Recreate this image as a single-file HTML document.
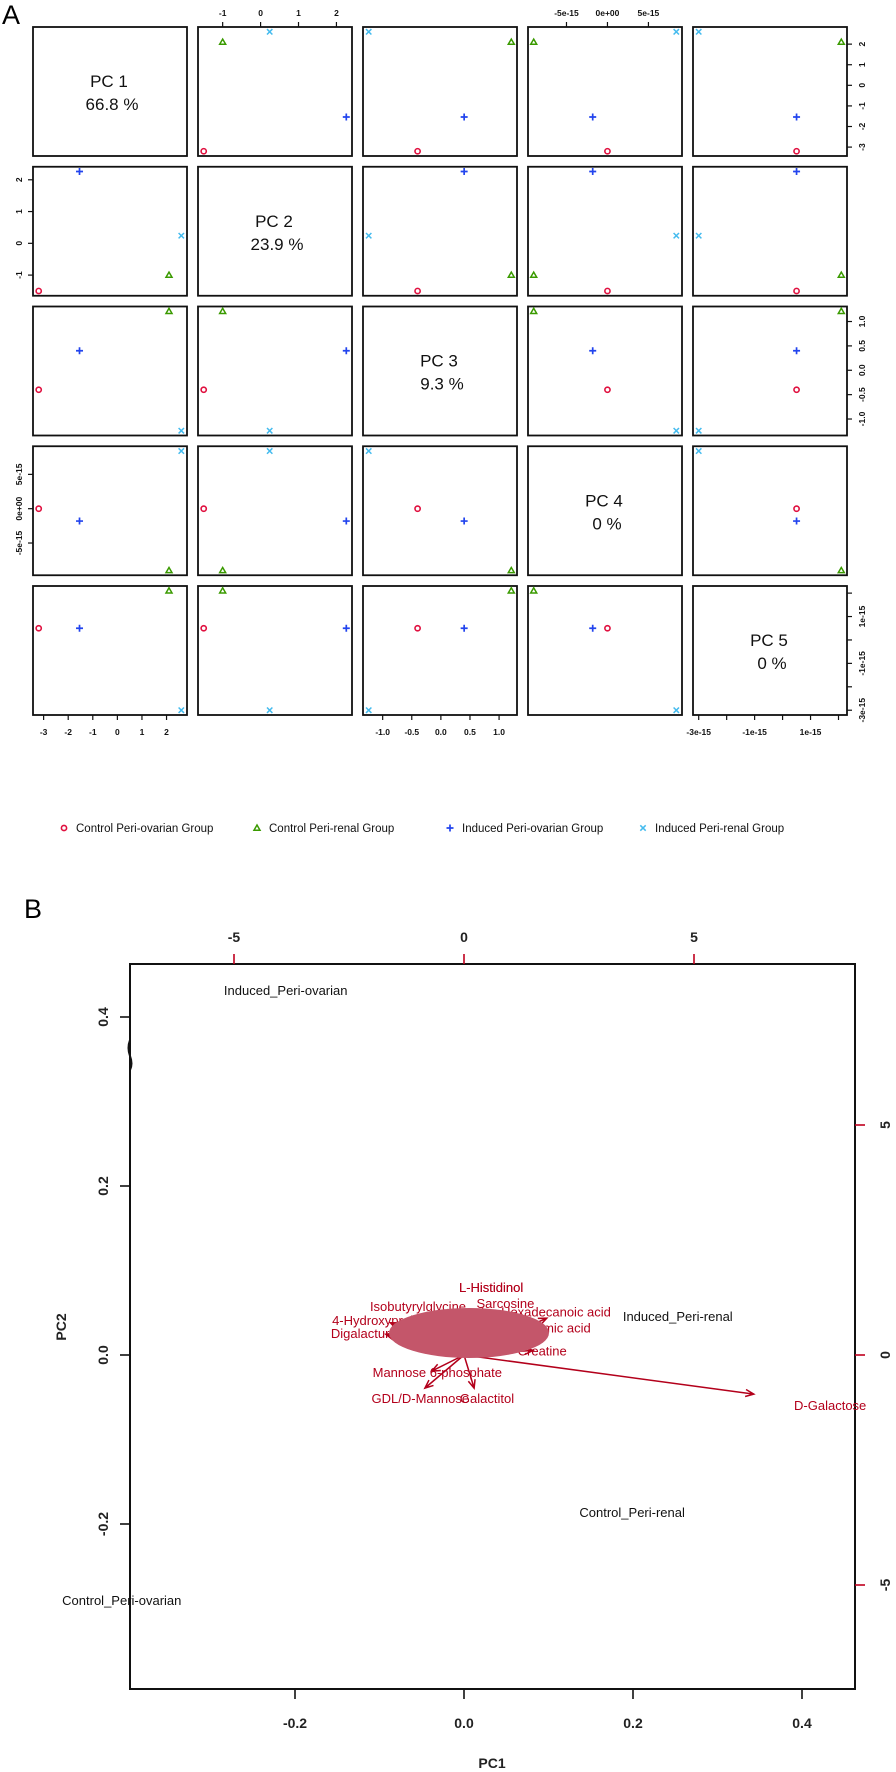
<!DOCTYPE html>
<html><head><meta charset="utf-8">
<style>
html,body{margin:0;padding:0;background:#fff;}
svg{display:block;font-family:"Liberation Sans",Arial,sans-serif;}
</style></head>
<body>
<svg id="fig" width="896" height="1772" viewBox="0 0 896 1772" xmlns="http://www.w3.org/2000/svg">
<rect x="0" y="0" width="896" height="1772" fill="#fff"/>
<text x="2" y="24" font-size="27" fill="#000">A</text>
<text x="24" y="918" font-size="27" fill="#000">B</text>
<g id="matrix"></g>
<g id="legend"></g>
<g id="biplot"></g>
</svg>
<script>
// ---------- Pairs matrix data ----------
const pcNames = ['PC 1','PC 2','PC 3','PC 4','PC 5'];
const pcVariance = ['66.8 %','23.9 %','9.3 %','0 %','0 %'];
const groupNames = ['Control Peri-ovarian Group','Control Peri-renal Group','Induced Peri-ovarian Group','Induced Peri-renal Group'];
const pc1Scores = [-3.2, 2.1, -1.54, 2.6];
const pc2Scores = [-1.5, -1.0, 2.26, 0.24];
const pc3Scores = [-0.40, 1.21, 0.40, -1.24];
const pc4Scores = [0, -9, -1.8, 8.4];   // x 1e-15
const pc5Scores = [0.5, 2.1, 0.5, -3.0]; // x 1e-15
const pc1Ticks = [-3,-2,-1,0,1,2];
const pc1TickLabels = ['-3','-2','-1','0','1','2'];
const pc2Ticks = [-1,0,1,2];
const pc2TickLabels = ['-1','0','1','2'];
const pc3Ticks = [-1,-0.5,0,0.5,1];
const pc3TickLabels = ['-1.0','-0.5','0.0','0.5','1.0'];
const pc4Ticks = [-5,0,5];
const pc4TickLabels = ['-5e-15','0e+00','5e-15'];
const pc5Ticks = [-3,-2,-1,0,1,2];
const pc5TickLabels = ['-3e-15','','-1e-15','','1e-15',''];

// ---------- Biplot data ----------
const sampleNames = ['Induced_Peri-ovarian','Induced_Peri-renal','Control_Peri-renal','Control_Peri-ovarian'];
const samplePC1 = [-0.211, 0.253, 0.199, -0.405];
const samplePC2 = [0.432, 0.046, -0.186, -0.290];
const varNames = ['D-Galactose','Mannose 6-phosphate','GDL/D-Mannose','Galactitol','L-Histidinol','Isobutyrylglycine','Sarcosine','Hexadecanoic acid','4-Hydroxyproline','Digalacturonic acid','Glutamic acid','Creatine'];
const varPC1 = [6.3, -0.7, -0.85, 0.22, 0.4, -0.6, 0.3, 1.8, -1.6, -1.7, 1.6, 1.5];
const varPC2 = [-0.85, -0.35, -0.72, -0.72, 1.0, 0.85, 0.9, 0.8, 0.7, 0.45, 0.55, 0.1];
const varLabelPC1 = [7.96, -0.58, -0.95, 0.5, 0.59, -1.0, 0.9, 2.0, -1.8, -1.7, 1.9, 1.7];
const varLabelPC2 = [-1.09, -0.37, -0.93, -0.93, 1.48, 1.07, 1.13, 0.95, 0.76, 0.48, 0.6, 0.1];
const bottomTicks = [-0.2, 0.0, 0.2, 0.4];
const bottomTickLabels = ['-0.2','0.0','0.2','0.4'];
const leftTicks = [0.4, 0.2, 0.0, -0.2];
const leftTickLabels = ['0.4','0.2','0.0','-0.2'];
const topTicks = [-5, 0, 5];
const topTickLabels = ['-5','0','5'];
const rightTicks = [5, 0, -5];
const rightTickLabels = ['5','0','-5'];

const NS = 'http://www.w3.org/2000/svg';
function mk(tag, attrs, parent){ const e=document.createElementNS(NS,tag); for(const k in attrs) e.setAttribute(k,attrs[k]); parent.appendChild(e); return e; }

// ---------- Pairs matrix ----------
const M = document.getElementById('matrix');
const scores = [pc1Scores, pc2Scores, pc3Scores, pc4Scores, pc5Scores];
const ticks = [pc1Ticks, pc2Ticks, pc3Ticks, pc4Ticks, pc5Ticks];
const tickLabs = [pc1TickLabels, pc2TickLabels, pc3TickLabels, pc4TickLabels, pc5TickLabels];
const colors = ['#e0103f','#3a9a00','#2244ee','#44bbee'];
const PW = 154, PH = 129;
function colLeft(i){ return 33 + i*165; }
function rowTop(j){ return 27 + j*139.75; }
function rng(k){ const a=Math.min(...scores[k]), b=Math.max(...scores[k]); const d=(b-a)*0.04; return [a-d, b+d]; }
function sx(k, col, v){ const r=rng(k); return colLeft(col) + (v-r[0])/(r[1]-r[0])*PW; }
function sy(k, row, v){ const r=rng(k); return rowTop(row) + PH - (v-r[0])/(r[1]-r[0])*PH; }

function marker(g, type, x, y){
  const c = colors[type];
  let m;
  if(type===0){ m = mk('circle',{cx:x,cy:y,r:2.6,fill:'none',stroke:c,'stroke-width':1.6},g); }
  else if(type===1){ m = mk('path',{d:`M${x-3},${y+2.2}L${x+3},${y+2.2}L${x},${y-3}Z`,fill:'none',stroke:c,'stroke-width':1.5},g); }
  else if(type===2){ m = mk('path',{d:`M${x-3.5},${y}H${x+3.5}M${x},${y-3.5}V${y+3.5}`,stroke:c,'stroke-width':1.7},g); }
  else { m = mk('path',{d:`M${x-2.7},${y-2.7}L${x+2.7},${y+2.7}M${x-2.7},${y+2.7}L${x+2.7},${y-2.7}`,stroke:c,'stroke-width':1.5},g); }
  return m;
}

for(let row=0; row<5; row++){
  for(let col=0; col<5; col++){
    const g = mk('g',{},M);
    
    
    const fr = mk('rect',{x:colLeft(col),y:rowTop(row),width:PW,height:PH,fill:'none',stroke:'#111','stroke-width':1.8},g);
    
    
    if(row===col){
      const cx = colLeft(col)+PW/2+2;
      const t1 = mk('text',{x:cx-3,y:rowTop(row)+60,'font-size':17,'text-anchor':'middle',fill:'#111'},g);
      t1.textContent = pcNames[row];
      
      
      const t2 = mk('text',{x:cx,y:rowTop(row)+83,'font-size':17,'text-anchor':'middle',fill:'#111'},g);
      t2.textContent = pcVariance[row];
      
      
    } else {
      for(let s=0; s<4; s++){
        const m = marker(g, s, sx(col,col,scores[col][s]), sy(row,row,scores[row][s]));
        
        
      }
    }
  }
}
// axes of pairs
function axisG(name){ const g=mk('g',{},M);   return g; }
for(let col=0; col<5; col++){
  const top = (col%2===1);
  const g = axisG((top?'top':'bottom')+'-axis-pc'+(col+1));
  ticks[col].forEach((v,i)=>{
    const x = sx(col,col,v);
    if(top){
      mk('line',{x1:x,y1:27,x2:x,y2:22,stroke:'#111','stroke-width':1.2},g);
      const t=mk('text',{x:x,y:16,'font-size':8.5,'font-weight':'bold','text-anchor':'middle',fill:'#111'},g); t.textContent=tickLabs[col][i];
    } else {
      const yb = rowTop(4)+PH;
      mk('line',{x1:x,y1:yb,x2:x,y2:yb+5,stroke:'#111','stroke-width':1.2},g);
      const t=mk('text',{x:x,y:735,'font-size':8.5,'font-weight':'bold','text-anchor':'middle',fill:'#111'},g); t.textContent=tickLabs[col][i];
    }
  });
}
for(let row=0; row<5; row++){
  const left = (row%2===1);
  const g = axisG((left?'left':'right')+'-axis-pc'+(row+1));
  ticks[row].forEach((v,i)=>{
    const y = sy(row,row,v);
    if(left){
      mk('line',{x1:33,y1:y,x2:28,y2:y,stroke:'#111','stroke-width':1.2},g);
      const t=mk('text',{x:0,y:0,'font-size':8.5,'font-weight':'bold','text-anchor':'middle',fill:'#111',transform:`translate(22,${y}) rotate(-90)`},g); t.textContent=tickLabs[row][i];
    } else {
      mk('line',{x1:847,y1:y,x2:852,y2:y,stroke:'#111','stroke-width':1.2},g);
      const t=mk('text',{x:0,y:0,'font-size':8.5,'font-weight':'bold','text-anchor':'middle',fill:'#111',transform:`translate(865,${y}) rotate(-90)`},g); t.textContent=tickLabs[row][i];
    }
  });
}
// legend
const L = document.getElementById('legend');
const legX = [64, 257, 450, 643];
groupNames.forEach((n,i)=>{
  const g = mk('g',{},L);
  
  
  marker(g, i, legX[i], 828);
  const t = mk('text',{x:legX[i]+12,y:832,'font-size':11.5,fill:'#111'},g);
  t.textContent = n;
});

// ---------- Biplot ----------
const B = document.getElementById('biplot');
const bx0=130, bx1=855, by0=964, by1=1689;
function xB(v){ return 464 + v*845; }
function yB(v){ return 1355 - v*845; }
function xT(v){ return 464 + v*46; }
function yR(v){ return 1355 - v*46; }
const frame = mk('rect',{x:bx0,y:by0,width:bx1-bx0,height:by1-by0,fill:'none',stroke:'#111','stroke-width':2},B);


// wiggle on left axis
mk('path',{d:'M130,1040 q-3,8 0,16 q3,8 0,14',fill:'none',stroke:'#111','stroke-width':2},B);

const ax = mk('g',{},B);


bottomTicks.forEach((v,i)=>{
  const x=xB(v);
  mk('line',{x1:x,y1:by1,x2:x,y2:by1+10,stroke:'#111','stroke-width':1.6},ax);
  const t=mk('text',{x:x,y:1728,'font-size':14,'font-weight':'bold','text-anchor':'middle',fill:'#222'},ax); t.textContent=bottomTickLabels[i];
});
leftTicks.forEach((v,i)=>{
  const y=yB(v);
  mk('line',{x1:bx0,y1:y,x2:bx0-10,y2:y,stroke:'#111','stroke-width':1.6},ax);
  const t=mk('text',{x:0,y:0,'font-size':14,'font-weight':'bold','text-anchor':'middle',fill:'#222',transform:`translate(108,${y}) rotate(-90)`},ax); t.textContent=leftTickLabels[i];
});
topTicks.forEach((v,i)=>{
  const x=xT(v);
  mk('line',{x1:x,y1:by0,x2:x,y2:by0-10,stroke:'#c0001e','stroke-width':1.6},ax);
  const t=mk('text',{x:x,y:942,'font-size':14,'font-weight':'bold','text-anchor':'middle',fill:'#222'},ax); t.textContent=topTickLabels[i];
});
rightTicks.forEach((v,i)=>{
  const y=yR(v);
  mk('line',{x1:bx1,y1:y,x2:bx1+10,y2:y,stroke:'#c0001e','stroke-width':1.6},ax);
  const t=mk('text',{x:0,y:0,'font-size':14,'font-weight':'bold','text-anchor':'middle',fill:'#222',transform:`translate(890,${y}) rotate(-90)`},ax); t.textContent=rightTickLabels[i];
});
const xl=mk('text',{x:492,y:1768,'font-size':14,'font-weight':'bold','text-anchor':'middle',fill:'#222'},B);
xl.textContent='PC1';


const yl=mk('text',{x:0,y:0,'font-size':14,'font-weight':'bold','text-anchor':'middle',fill:'#222',transform:'translate(66,1327) rotate(-90)'},B);
yl.textContent='PC2';



// variable arrows
const vg = mk('g',{},B);


const ox=xT(0), oy=yR(0);
varNames.forEach((n,i)=>{
  const ex=xT(varPC1[i]), ey=yR(varPC2[i]);
  const a=Math.atan2(ey-oy, ex-ox), h=9;
  const p=mk('path',{d:`M${ox},${oy}L${ex},${ey}M${ex-h*Math.cos(a-0.4)},${ey-h*Math.sin(a-0.4)}L${ex},${ey}L${ex-h*Math.cos(a+0.4)},${ey-h*Math.sin(a+0.4)}`,fill:'none',stroke:'#b3001b','stroke-width':1.5},vg);
  
  
});
varNames.forEach((n,i)=>{
  const t=mk('text',{x:xT(varLabelPC1[i]),y:yR(varLabelPC2[i])+5,'font-size':13,'text-anchor':'middle',fill:'#b3001b'},vg);
  t.textContent=n;
  
  
});
const blob=mk('ellipse',{cx:469,cy:1333,rx:80,ry:25,fill:'#c4566a'},vg);


mk('text',{x:xT(varLabelPC1[4]),y:yR(varLabelPC2[4])+5,'font-size':13,'text-anchor':'middle',fill:'#b3001b'},vg).textContent='L-Histidinol';

// samples
const sg = mk('g',{},B);


sampleNames.forEach((n,i)=>{
  const t=mk('text',{x:xB(samplePC1[i]),y:yB(samplePC2[i])+5,'font-size':13,'text-anchor':'middle',fill:'#111'},sg);
  t.textContent=n;
  
  
});
</script>
</body></html>
